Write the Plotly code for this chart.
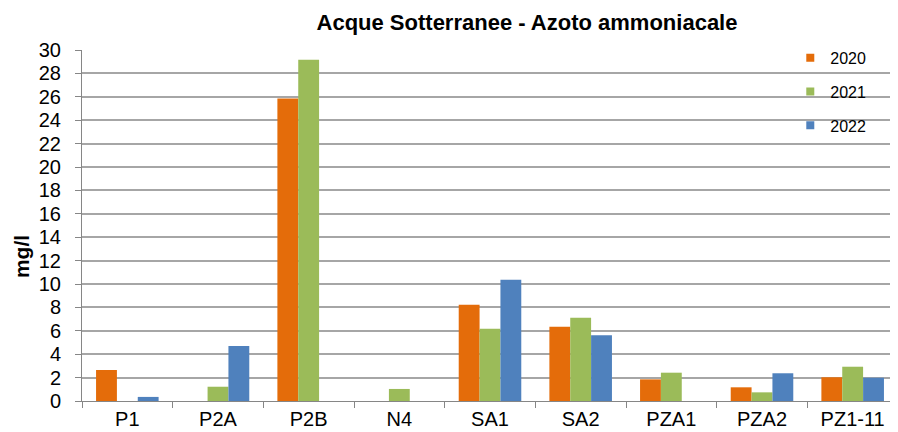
import plotly.graph_objects as go

categories = ["P1", "P2A", "P2B", "N4", "SA1", "SA2", "PZA1", "PZA2", "PZ1-11"]
years = ["2020", "2021", "2022"]
v2020 = [2.65, None, 25.85, None, 8.23, 6.35, 1.85, 1.17, 2.03]
v2021 = [None, 1.22, 29.17, 1.03, 6.18, 7.12, 2.42, 0.74, 2.93]
v2022 = [0.35, 4.7, None, None, 10.37, 5.62, None, 2.37, 1.99]
colors = ["#E46C0A", "#9BBB59", "#4F81BD"]
yticks = list(range(0, 31, 2))

fig = go.Figure()
for name, vals, col in zip(years, [v2020, v2021, v2022], colors):
    fig.add_trace(go.Bar(
        x=categories, y=vals, name=name, legendgroup=name, showlegend=False,
        marker=dict(color=col, line=dict(width=0)),
    ))
# legend entries with small square keys
for name, col in zip(years, colors):
    fig.add_trace(go.Scatter(
        x=[None], y=[None], mode="markers", name=name, legendgroup=name,
        marker=dict(symbol="square", size=8, color=col, line=dict(width=0)),
    ))

# page body has an 8px margin, so the figure is sized 890x424
fig.update_layout(
    width=890, height=424,
    margin=dict(l=74, r=0, t=42, b=31),
    paper_bgcolor="white", plot_bgcolor="white",
    barmode="group", bargap=0.31, bargroupgap=0,
    font=dict(family="Liberation Sans, Arial, sans-serif", color="#000000"),
    title=dict(text="<b>Acque Sotterranee - Azoto ammoniacale</b>",
               x=519/890, xanchor="center", y=1 - 14/424, yanchor="middle",
               font=dict(size=22)),
    showlegend=True,
    legend=dict(x=0.868, xanchor="left", y=1.026, yanchor="top",
                bgcolor="rgba(0,0,0,0)", font=dict(size=16),
                tracegroupgap=10, itemwidth=30),
    annotations=[dict(text="<b>mg/l</b>", xref="paper", yref="paper",
                      x=-61/816, y=0.41, xanchor="center", yanchor="middle",
                      textangle=-90, showarrow=False, font=dict(size=21))],
)
fig.update_xaxes(
    type="category", tickson="boundaries", ticks="outside", ticklen=6,
    tickcolor="#868686", showline=True, linecolor="#868686", linewidth=1,
    tickfont=dict(size=20), showgrid=False, automargin=False,
    ticklabelstandoff=0,
)
fig.update_yaxes(
    range=[0, 30], tickvals=yticks, ticks="outside", ticklen=6,
    tickcolor="#868686", showline=True, linecolor="#868686", linewidth=1,
    gridcolor="#A6A6A6", gridwidth=1.5, tickfont=dict(size=20), zeroline=False,
    ticklabelstandoff=10, automargin=False,
)
fig.write_html("out.html")
